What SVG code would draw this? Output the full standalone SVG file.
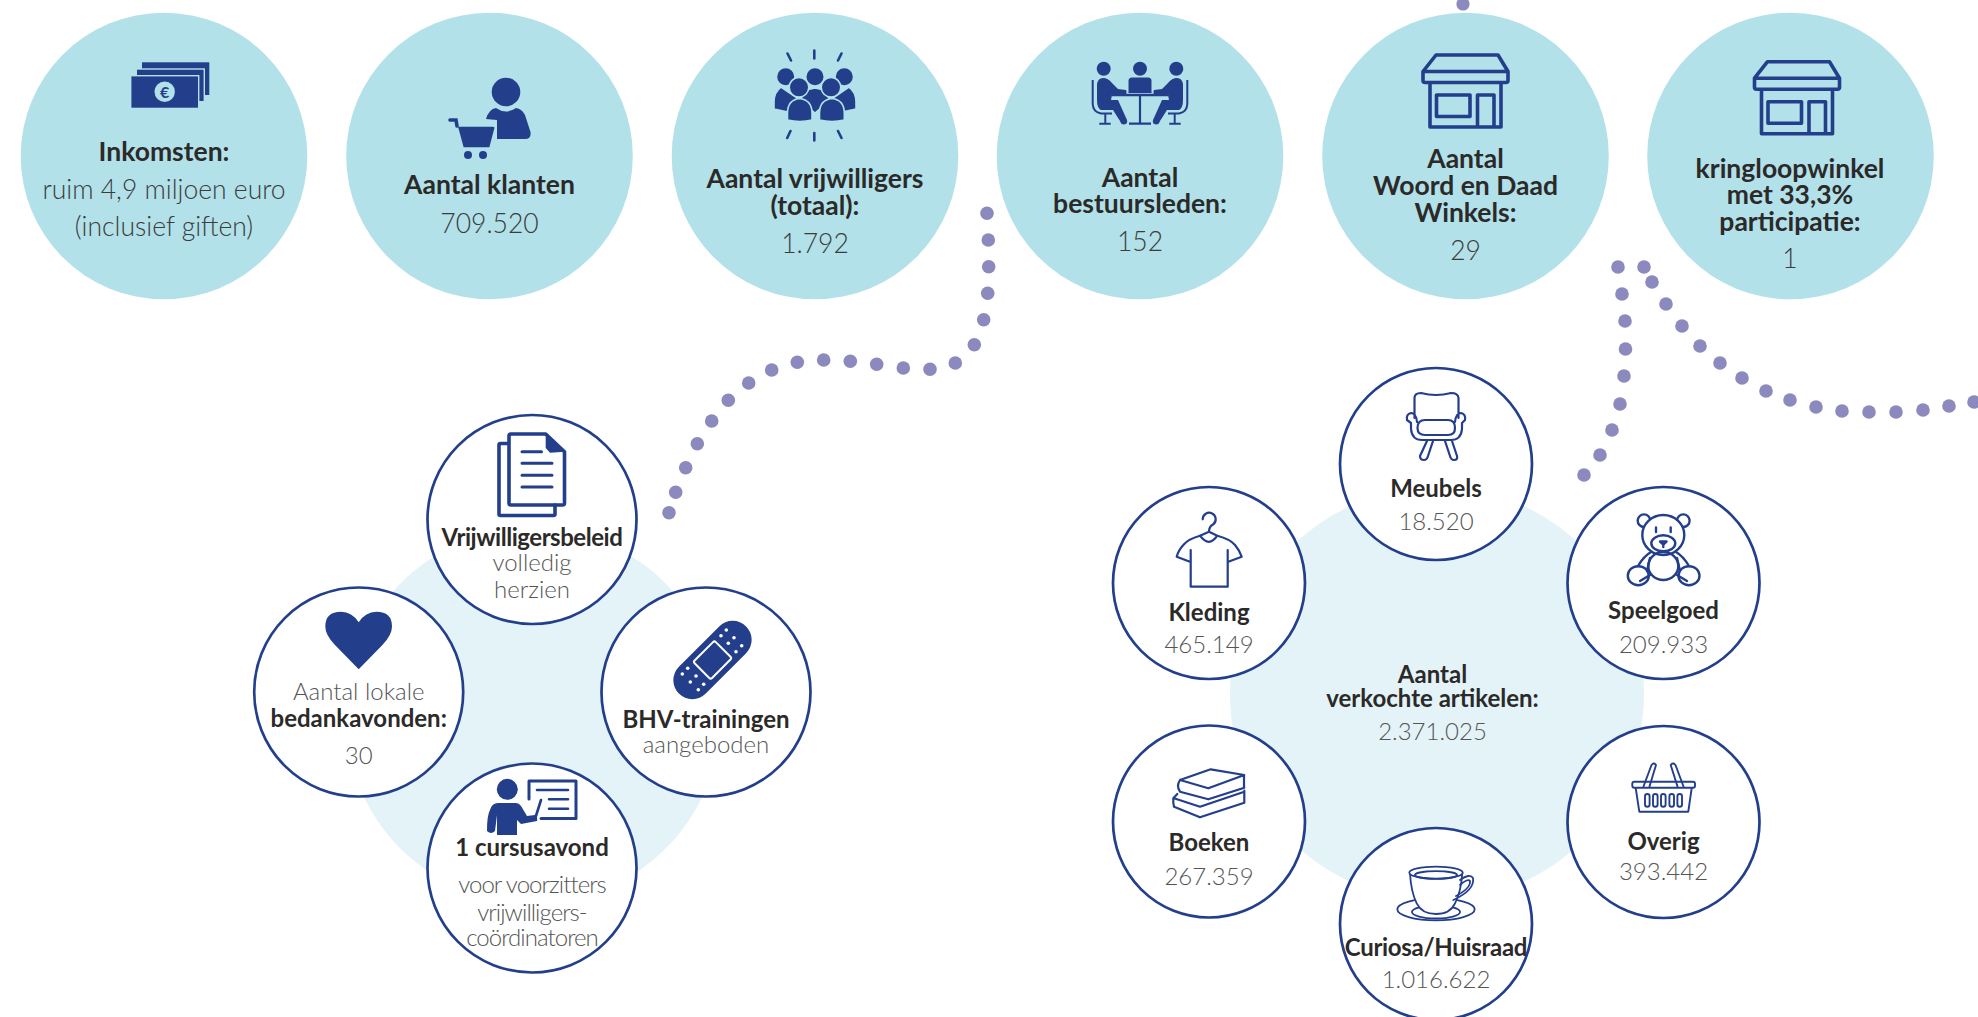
<svg xmlns="http://www.w3.org/2000/svg" xmlns:xlink="http://www.w3.org/1999/xlink" width="1978" height="1017" viewBox="0 0 1978 1017">
<style>
text{font-family:Lato,"Liberation Sans",sans-serif;text-anchor:middle}
.big{fill:#b2e1e9}
.pale{fill:#e3f3f7}
.ring{fill:#fff;stroke:#233f8b;stroke-width:2.7}
.h{font-weight:700;font-size:26.5px;fill:#2b2a29}
.v{font-weight:300;font-size:26.5px;fill:#3c3c3c}
.hs{font-weight:700;font-size:24px;fill:#2b2a29}
.vs{font-weight:300;font-size:24px;fill:#555}
.tight{letter-spacing:-.95px}
.ic{fill:#233f8b}
.ol{fill:none;stroke:#233f8b;stroke-width:2.2;stroke-linecap:round;stroke-linejoin:round}
.ol3{fill:none;stroke:#233f8b;stroke-width:3.6;stroke-linecap:round;stroke-linejoin:round}
#connectors circle{fill:#8b89bd}
</style>
<defs>
<g id="store">
<path class="ol3" d="M1436,55H1498L1508,71.5V80.5Q1508,82.5 1506,82.5H1425Q1423,82.5 1423,80.5V71.5ZM1423,71.5H1508M1430,83V127H1501V83M1436.5,95H1470V116.5H1436.5ZM1477.5,127V95H1494V127"/>
</g>
<g id="sitter">
<path class="ic" d="M1097,84Q1098,78 1103,78Q1108,78 1112,83L1118,89L1126,90Q1127.5,92.5 1126,94.5L1112,95L1111,100L1118,100L1127,120Q1128,124 1124,124.5Q1121,124.5 1120,121L1113,110L1101,110Q1097,108 1097,100Z"/>
<circle class="ic" cx="1103.7" cy="68.7" r="7"/>
<path fill="none" stroke="#233f8b" stroke-width="2" d="M1092.7,80V104Q1093,112 1101,113.5H1112M1105.3,113V123.5M1099.3,123.7H1110.7"/>
</g>
</defs>

<g id="connectors">
<circle cx="1463" cy="4" r="6.6"/>
<circle cx="987" cy="213.3" r="6.8"/><circle cx="988.3" cy="240" r="6.8"/><circle cx="988.7" cy="266.7" r="6.8"/><circle cx="987.7" cy="293.3" r="6.8"/><circle cx="983.7" cy="319.7" r="6.8"/><circle cx="974.3" cy="344.7" r="6.8"/><circle cx="955.3" cy="363" r="6.8"/><circle cx="930" cy="369.3" r="6.8"/><circle cx="903.3" cy="368" r="6.8"/><circle cx="876.7" cy="364.3" r="6.8"/><circle cx="850.3" cy="361.3" r="6.8"/><circle cx="823.7" cy="360" r="6.8"/><circle cx="797.3" cy="362.3" r="6.8"/><circle cx="771.7" cy="370" r="6.8"/><circle cx="748.7" cy="383" r="6.8"/><circle cx="728.3" cy="400.3" r="6.8"/><circle cx="711.7" cy="421" r="6.8"/><circle cx="697.3" cy="443.7" r="6.8"/><circle cx="685.7" cy="467.7" r="6.8"/><circle cx="675.7" cy="492.3" r="6.8"/><circle cx="669" cy="512.7" r="6.8"/>
<circle cx="1618" cy="267" r="6.8"/><circle cx="1622" cy="294" r="6.8"/><circle cx="1625" cy="321" r="6.8"/><circle cx="1625.5" cy="349" r="6.8"/><circle cx="1624" cy="376" r="6.8"/><circle cx="1620" cy="404" r="6.8"/><circle cx="1612" cy="430" r="6.8"/><circle cx="1600" cy="455" r="6.8"/><circle cx="1584" cy="475" r="6.8"/>
<circle cx="1644" cy="267" r="6.8"/><circle cx="1652" cy="282" r="6.8"/><circle cx="1666" cy="304" r="6.8"/><circle cx="1682" cy="326" r="6.8"/><circle cx="1700" cy="346" r="6.8"/><circle cx="1720" cy="363" r="6.8"/><circle cx="1742" cy="378" r="6.8"/><circle cx="1766" cy="391" r="6.8"/><circle cx="1790" cy="400" r="6.8"/><circle cx="1816" cy="407" r="6.8"/><circle cx="1842" cy="411" r="6.8"/><circle cx="1869" cy="412" r="6.8"/><circle cx="1896" cy="412" r="6.8"/><circle cx="1923" cy="410" r="6.8"/><circle cx="1949" cy="406" r="6.8"/><circle cx="1974" cy="402" r="6.8"/>
</g>

<g id="inkomsten">
<circle class="big" cx="164" cy="156" r="143.3"/>
<rect class="ic" x="142" y="62.3" width="67.3" height="32.7"/>
<rect class="ic" x="136.3" y="69" width="68" height="32.7" stroke="#b2e1e9" stroke-width="1.4"/>
<rect class="ic" x="130.7" y="75.7" width="68" height="32.7" stroke="#b2e1e9" stroke-width="1.4"/>
<circle cx="164.7" cy="91.7" r="10.2" fill="#b2e1e9"/>
<text x="164.7" y="97.5" font-size="16" font-weight="700" fill="#233f8b">€</text>
<text class="h" x="164" y="160.7">Inkomsten:</text>
<text class="v" x="164" y="199">ruim 4,9 miljoen euro</text>
<text class="v" x="164" y="236">(inclusief giften)</text>
</g>
<g id="klanten">
<circle class="big" cx="489.5" cy="156" r="143.3"/>
<circle class="ic" cx="506" cy="92" r="14.3"/>
<path class="ic" d="M486,119Q489,109 496,108Q506,115 516,108Q522,109 525,115L530.5,132Q531.5,139 525,139H497V120Z"/>
<path class="ic" stroke="#b2e1e9" stroke-width="1.6" d="M457,126H493Q496,126 495,129L490,148H463Z"/>
<path fill="none" stroke="#233f8b" stroke-width="3.6" stroke-linecap="round" d="M450,120H456L457,126"/>
<circle class="ic" cx="468" cy="155" r="4"/><circle class="ic" cx="483" cy="155" r="4"/>
<text class="h" x="489.5" y="194.3">Aantal klanten</text>
<text class="v" x="489.5" y="232.7">709.520</text>
</g>
<g id="vrijwilligers">
<circle class="big" cx="815" cy="156" r="143.3"/>
<g fill="none" stroke="#233f8b" stroke-width="2.6" stroke-linecap="round"><path d="M814.3,50.5V58.5M787.5,53.5L791,60.5M841.5,53.5L838,60.5M814.3,133V140.5M790.5,131L787.2,138M838,131L841.5,138"/></g>
<g class="ic" stroke="#b2e1e9" stroke-width="1.6">
<path d="M781,87Q774,92 774,102V109L788,112L800,100Z"/>
<path d="M849,87Q856,92 856,102V109L842,112L830,100Z"/>
<path d="M815,88L806,90L800,100L815,113L830,100L824,90Z"/>
<circle cx="785.7" cy="76.7" r="9.3"/><circle cx="844.3" cy="76.7" r="9.3"/><circle cx="815" cy="76.7" r="9.3"/>
<circle cx="799" cy="87.3" r="9.8"/><circle cx="831" cy="87.3" r="9.8"/>
<path d="M799.5,98.5Q812,100 812,113V120Q800,123 787.5,120V113Q787.5,100 799.5,98.5Z"/>
<path d="M832,98.5Q844.3,100 844.3,113V120Q832,123 819.5,120V113Q819.5,100 832,98.5Z"/>
</g>
<text class="h" x="815" y="188">Aantal vrijwilligers</text>
<text class="h" x="815" y="215">(totaal):</text>
<text class="v" x="815" y="253.3">1.792</text>
</g>
<g id="bestuursleden">
<circle class="big" cx="1140" cy="156" r="143.3"/>
<use xlink:href="#sitter"/><use xlink:href="#sitter" transform="translate(2280,0) scale(-1,1)"/>
<circle class="ic" cx="1140" cy="68.7" r="7"/>
<path class="ic" d="M1132,77.5H1148Q1151.5,77.5 1151.5,81V93H1128.5V81Q1128.5,77.5 1132,77.5Z"/>
<path fill="none" stroke="#233f8b" stroke-width="2.6" d="M1112,95H1168"/>
<path fill="none" stroke="#233f8b" stroke-width="2.2" d="M1140,95V123.5M1129,123.7H1151"/>
<text class="h" x="1140" y="186.7">Aantal</text>
<text class="h" x="1140" y="212.7">bestuursleden:</text>
<text class="v" x="1140" y="251">152</text>
</g>
<g id="winkels">
<circle class="big" cx="1465.5" cy="156" r="143.3"/>
<use xlink:href="#store"/>
<text class="h" x="1465.5" y="168.3">Aantal</text>
<text class="h" x="1465.5" y="195">Woord en Daad</text>
<text class="h" x="1465.5" y="221.7">Winkels:</text>
<text class="v" x="1465.5" y="260">29</text>
</g>
<g id="kringloop">
<circle class="big" cx="1790.5" cy="156" r="143.3"/>
<use xlink:href="#store" transform="translate(331.5,6.7)"/>
<text class="h" x="1790" y="177.7">kringloopwinkel</text>
<text class="h" x="1790" y="204">met 33,3%</text>
<text class="h" x="1790" y="230.7">participatie:</text>
<text class="v" x="1790" y="267.7">1</text>
</g>

<g id="vrijwilligers-bg"><circle class="pale" cx="533" cy="716" r="187.5"/></g>
<g id="beleid">
<circle class="ring" cx="532" cy="519.5" r="104.5"/>
<path class="ol3" d="M508,443.5H500.5Q499,443.5 499,445V514Q499,515.5 500.5,515.5H553.5Q555,515.5 555,514V505"/>
<path class="ol3" d="M545.7,434H511Q509,434 509,436V503Q509,505 511,505H562.5Q564.5,505 564.5,503V451.7Z"/>
<path class="ic" d="M545.7,433.3L565,451.7L550,452.7L545.7,448Z"/>
<path class="ol3" style="stroke-width:3" d="M522,451.7H541.5M522,463.3H552M522,475.3H552M522,487H552"/>
<text class="hs" style="letter-spacing:-.46px" x="532" y="545.7">Vrijwilligersbeleid</text>
<text class="vs" x="532" y="570.7">volledig</text>
<text class="vs" x="532" y="598">herzien</text>
</g>
<g id="bedankavonden">
<circle class="ring" cx="358.7" cy="692" r="104.5"/>
<path class="ic" d="M358.7,669.3L335,645Q325.3,635 325.3,626.5Q325.3,611.7 341,611.7Q352,611.7 358.7,622.3Q365.4,611.7 376.4,611.7Q392,611.7 392,626.5Q392,635 382.4,645Z"/>
<text class="vs" x="358.7" y="700">Aantal lokale</text>
<text class="hs" x="358.7" y="727.3">bedankavonden:</text>
<text class="vs" x="358.7" y="764">30</text>
</g>
<g id="bhv">
<circle class="ring" cx="706" cy="692" r="104.5"/>
<g transform="rotate(-45 712.5 660)">
<rect class="ic" x="665" y="641" width="95" height="38" rx="19"/>
<rect class="ic" x="697.5" y="647.7" width="30" height="24.7" rx="2" stroke="#fff" stroke-width="2"/>
</g>
<g fill="#fff"><circle cx="726.3" cy="630" r="1.8"/><circle cx="721" cy="635.7" r="1.8"/><circle cx="734" cy="637.7" r="1.8"/><circle cx="728.3" cy="643.3" r="1.8"/><circle cx="741.7" cy="645.7" r="1.8"/><circle cx="736" cy="651.7" r="1.8"/><circle cx="682.3" cy="674" r="1.8"/><circle cx="687.7" cy="668.3" r="1.8"/><circle cx="696" cy="676" r="1.8"/><circle cx="690.3" cy="682" r="1.8"/><circle cx="703.7" cy="684.3" r="1.8"/><circle cx="698.3" cy="689.7" r="1.8"/></g>
<text class="hs" x="706" y="727.7">BHV-trainingen</text>
<text class="vs" x="706" y="753">aangeboden</text>
</g>
<g id="cursus">
<circle class="ring" cx="532" cy="868" r="104.5"/>
<circle class="ic" cx="507.3" cy="789.3" r="10.5"/>
<path class="ic" d="M498,803H516Q519,803 521,806L527,816L535,815Q538,817 537,821L521,824L517,820V835H497V815L495,831Q491,835 487,831Q487,815 490,810Q492,803 498,803Z"/>
<path class="ol3" style="stroke-width:3" d="M529,799V781H576V818.5H541"/>
<path class="ol3" style="stroke-width:2.6" d="M535,819L541,800M537,790H568M549,799.3H568M549,808.7H568"/>
<text class="hs" x="532" y="855.7">1 cursusavond</text>
<text class="vs tight" x="532" y="893">voor voorzitters</text>
<text class="vs tight" x="532" y="920.7">vrijwilligers-</text>
<text class="vs tight" x="532" y="946.3">coördinatoren</text>
</g>

<g id="artikelen-bg">
<circle class="pale" cx="1437" cy="694" r="207"/>
</g>
<g id="artikelen-label">
<text class="hs" x="1432.5" y="683.3">Aantal</text>
<text class="hs" x="1432.5" y="707.3">verkochte artikelen:</text>
<text class="vs" x="1432.5" y="739.7">2.371.025</text>
</g>
<g id="meubels">
<circle class="ring" cx="1436" cy="464" r="96"/>
<path class="ol" d="M1414.5,418V398Q1414.5,393 1421,393Q1436,397 1451,393Q1458,393 1458.5,398V418M1417,422Q1416,413 1411,413Q1406,414 1407,420L1411,423V429Q1412,440 1422,440H1451Q1461,440 1462,429V423L1465,420Q1466,414 1461,413Q1456,413 1455,422M1425,420H1448Q1455,420 1455,428Q1455,435 1448,435H1425Q1417.5,435 1417.5,428Q1417.5,420 1425,420ZM1427,441L1420,456Q1420,460 1424,460Q1427,460 1428,456L1433,441M1445,441L1450,456Q1451,460 1454,460Q1458,460 1457,456L1452,441"/>
<text class="hs" x="1436" y="496.7">Meubels</text>
<text class="vs" x="1436" y="530">18.520</text>
</g>
<g id="kleding">
<circle class="ring" cx="1209" cy="583" r="96"/>
<path class="ol" d="M1202.7,519.3A6.5,6.5 0 1 1 1213,524.5Q1209,526.5 1209,531.7M1209,531.7L1200,535.7Q1188,539 1183.3,545Q1178,551 1176.7,556.7L1190,561.7M1209,531.7L1217.3,535.7Q1230,539 1235,545Q1240,551 1241.7,556.7L1228.3,561.7M1200,535.7Q1209,548 1217.3,535.7M1190.7,550V586.7H1227.7V550"/>
<text class="hs" x="1209" y="620.7">Kleding</text>
<text class="vs" x="1209" y="653.3">465.149</text>
</g>
<g id="boeken">
<circle class="ring" cx="1209" cy="821.5" r="96"/>
<path class="ol" d="M1180,780L1210.7,769.3L1244.3,775L1208.3,788.3ZM1180,780Q1176,786 1180,791.7L1208.3,799.3L1244.3,787.7M1244,775V787M1177.3,794L1173.3,798.3Q1173,803 1174,806.7L1200,817.3L1244.3,802.7V790.7M1174,798.3L1200,806.7L1244.3,791.7"/>
<text class="hs" x="1209" y="850.7">Boeken</text>
<text class="vs" x="1209" y="884.7">267.359</text>
</g>
<g id="curiosa">
<circle class="ring" cx="1436" cy="924" r="96"/>
<g fill="none" stroke="#233f8b" stroke-width="1.8" stroke-linecap="round">
<ellipse cx="1436" cy="909.3" rx="38.7" ry="11"/>
<ellipse cx="1436" cy="912" rx="24" ry="6.5"/>
<path fill="#fff" d="M1410,873.3Q1411,892 1416.7,903.3Q1422,914 1436,914Q1450,914 1455,903.3Q1461,892 1462.3,873.3Z"/>
<ellipse cx="1436" cy="872.7" rx="26.7" ry="6" fill="#fff"/>
<ellipse cx="1436" cy="875" rx="21" ry="3.8"/>
<path d="M1460,880Q1470,873 1473,878Q1475,890 1453.3,900M1460,885Q1468,878 1470,881Q1471,888 1456,896"/>
</g>
<text class="hs" style="letter-spacing:-.3px" x="1436" y="955.7">Curiosa/Huisraad</text>
<text class="vs" x="1436" y="988.3">1.016.622</text>
</g>
<g id="speelgoed">
<circle class="ring" cx="1663.5" cy="583" r="96"/>
<g class="ol" style="stroke-width:2.4">
<circle cx="1644" cy="520.7" r="6.3" fill="#fff"/><circle cx="1683.3" cy="520.7" r="6.3" fill="#fff"/>
<ellipse cx="1663.3" cy="535" rx="21" ry="20" fill="#fff"/>
<ellipse cx="1663.3" cy="543.3" rx="12" ry="8"/>
<path d="M1656,527.5V532M1670.7,527.5V532M1660,541.5H1666.5L1663.3,544.5ZM1663.3,544.5V547"/>
<ellipse cx="1663.3" cy="566" rx="15" ry="14"/>
<path d="M1651,552Q1644,556 1638,566M1676,552Q1683,556 1689,566M1650,558L1647,571M1677,558L1680,571M1650,575L1640,581M1677,575L1687,581"/>
<ellipse cx="1638.3" cy="575.7" rx="10.5" ry="9.5"/>
<ellipse cx="1689" cy="575.7" rx="10.5" ry="9.5"/>
</g>
<text class="hs" x="1663.5" y="619.3">Speelgoed</text>
<text class="vs" x="1663.5" y="653.3">209.933</text>
</g>
<g id="overig">
<circle class="ring" cx="1663.5" cy="822" r="96"/>
<g fill="none" stroke="#233f8b" stroke-width="1.9" stroke-linecap="round" stroke-linejoin="round">
<path d="M1635.7,788L1639.3,811.7H1688.3L1691.7,788"/>
<rect x="1632.3" y="781.7" width="62.7" height="6" rx="2"/>
<path d="M1643.5,786.5L1651.5,765Q1654,762 1656,765L1649.5,786.5M1683.5,786.5L1675.5,765Q1673,762 1670.7,765L1677.5,786.5"/>
<rect x="1645" y="794" width="4.6" height="12.7" rx="2.3"/><rect x="1653" y="794" width="4.6" height="12.7" rx="2.3"/><rect x="1661" y="794" width="4.6" height="12.7" rx="2.3"/><rect x="1669.4" y="794" width="4.6" height="12.7" rx="2.3"/><rect x="1677.4" y="794" width="4.6" height="12.7" rx="2.3"/>
</g>
<text class="hs" x="1663.5" y="849.5">Overig</text>
<text class="vs" x="1663.5" y="880">393.442</text>
</g>
</svg>
